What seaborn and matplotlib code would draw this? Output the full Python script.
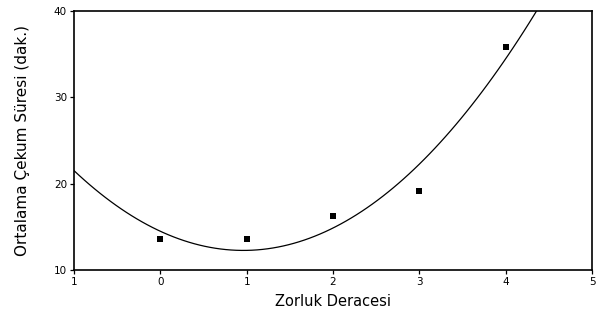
import numpy as np
import pandas as pd
import matplotlib
matplotlib.use("Agg")
import matplotlib.pyplot as plt
import seaborn as sns

# Data
difficulty = [0, 1, 2, 3, 4]
mean_time = [13.6, 13.6, 16.2, 19.15, 35.8]
x_ticks = [-1, 0, 1, 2, 3, 4, 5]
x_tick_labels = ["1", "0", "1", "2", "3", "4", "5"]
y_ticks = [10, 20, 30, 40]
x_label = "Zorluk Deracesi"
y_label = "Ortalama Çekum Süresi (dak.)"

sns.set_theme(style="ticks")
plt.rcParams['font.family'] = ['DejaVu Sans']

df = pd.DataFrame({"x": difficulty, "y": mean_time})

fig = plt.figure(figsize=(6.04, 3.2), dpi=100)
ax = fig.add_axes([74 / 604, 1 - 270 / 320, (592 - 74) / 604, (270 - 11) / 320])
ax.set_xlim(-1, 5)
ax.set_ylim(10, 40)

sns.regplot(data=df, x="x", y="y", order=2, ci=None, truncate=False, ax=ax,
            marker="s", color="black",
            scatter_kws=dict(s=20, linewidths=0, alpha=1),
            line_kws=dict(lw=0.9, color="black"))
ax.set_xlim(-1, 5)
ax.set_ylim(10, 40)

ax.set_xticks(x_ticks)
ax.set_xticklabels(x_tick_labels)
ax.set_yticks(y_ticks)
ax.tick_params(axis="both", direction="out", length=3, width=0.9, labelsize=7.5,
               color="black", labelcolor="black", pad=2)
for sp in ax.spines.values():
    sp.set_visible(True)
    sp.set_linewidth(1.2)
    sp.set_color("black")

ax.set_xlabel(x_label, fontsize=10.5, labelpad=5, color="black")
ax.set_ylabel(y_label, fontsize=11, labelpad=17, color="black")

fig.savefig("out.png", dpi=100)
